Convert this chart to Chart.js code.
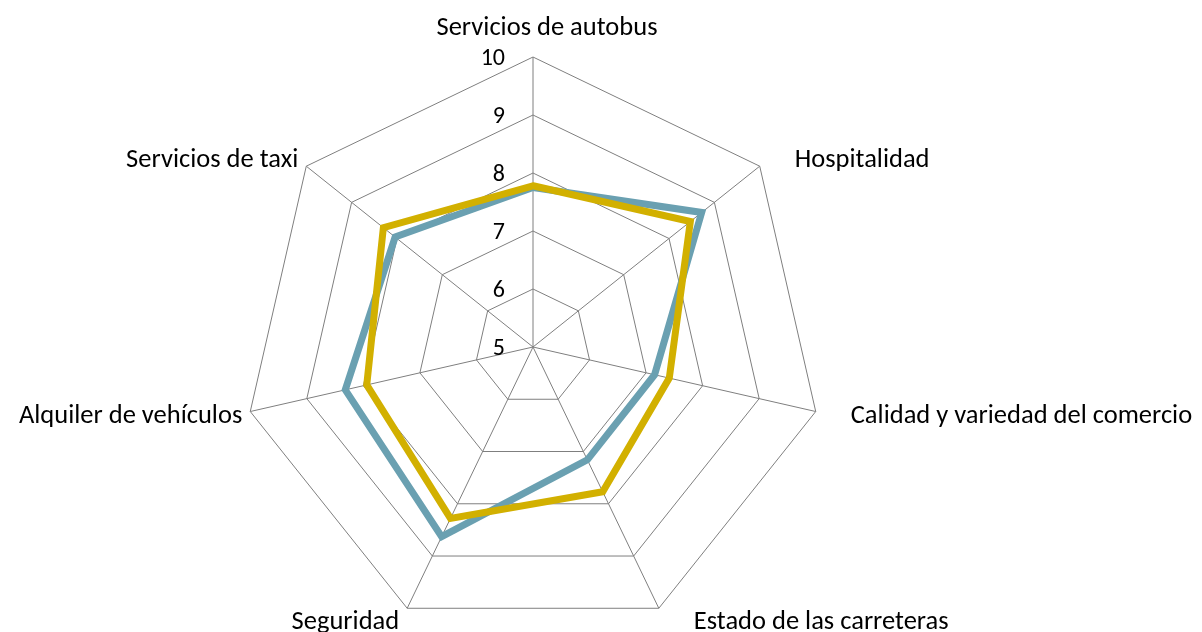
<!DOCTYPE html>
<html>
<head>
<meta charset="utf-8">
<script src="https://cdn.jsdelivr.net/npm/chart.js@4"></script>
<style>
  html, body { margin: 0; padding: 0; background: #fff; overflow: hidden; }
  canvas { display: block; }
</style>
</head>
<body>
<canvas id="radar" width="1202" height="642"></canvas>
<script>
// Categorias y valores
var categorias = [
  "Servicios de autobus",
  "Hospitalidad",
  "Calidad y variedad del comercio",
  "Estado de las carreteras",
  "Seguridad",
  "Alquiler de vehículos",
  "Servicios de taxi"
];
var serieAzul = [7.75, 8.72, 7.15, 7.16, 8.63, 8.32, 8.04];
var serieDorada = [7.78, 8.47, 7.41, 7.77, 8.28, 7.94, 8.30];
var valoresEje = [5, 6, 7, 8, 9, 10];

var fuenteCategorias = "26.5px Carlito, Calibri, 'Open Sans', sans-serif";
var fuenteEje = "24px Carlito, Calibri, 'Open Sans', sans-serif";

// Etiquetas de categorias y de la escala, dibujadas con la posicion del eje radial
var etiquetas = {
  id: "etiquetas",
  afterDraw: function (chart) {
    var r = chart.scales.r;
    var ctx = chart.ctx;
    ctx.save();
    ctx.fillStyle = "#000";
    ctx.font = fuenteCategorias;
    ctx.textBaseline = "middle";
    categorias.forEach(function (nombre, i) {
      var p = r.getPointPosition(i, r.drawingArea);
      var ux = (p.x - r.xCenter) / r.drawingArea;
      var uy = (p.y - r.yCenter) / r.drawingArea;
      var x = p.x + 14, y;
      if (Math.abs(ux) < 0.1) {
        ctx.textAlign = "center";
        y = p.y + uy * 29;
      } else {
        ctx.textAlign = ux > 0 ? "left" : "right";
        x += ux > 0 ? 21 : -22;
        y = p.y + uy * 13 + 2;
      }
      ctx.fillText(nombre, x, y);
    });
    ctx.font = fuenteEje;
    ctx.textAlign = "right";
    valoresEje.forEach(function (v) {
      var d = r.getDistanceFromCenterForValue(v);
      ctx.fillText(String(v), r.xCenter - 28, r.yCenter - d + 2);
    });
    ctx.restore();
  }
};

var ctx = document.getElementById("radar").getContext("2d");
new Chart(ctx, {
  type: "radar",
  data: {
    labels: categorias,
    datasets: [
      {
        label: "Serie 1",
        data: serieAzul,
        borderColor: "rgb(106, 160, 177)",
        borderWidth: 7,
        borderJoinStyle: "miter",
        fill: false,
        pointRadius: 0,
        order: 2
      },
      {
        label: "Serie 2",
        data: serieDorada,
        borderColor: "rgb(210, 176, 0)",
        borderWidth: 7,
        borderJoinStyle: "miter",
        fill: false,
        pointRadius: 0,
        order: 1
      }
    ]
  },
  options: {
    responsive: false,
    animation: false,
    layout: { padding: { left: 0, right: 136, top: 57, bottom: 5 } },
    plugins: { legend: { display: false }, tooltip: { enabled: false } },
    scales: {
      r: {
        min: valoresEje[0],
        max: valoresEje[valoresEje.length - 1],
        ticks: { display: false, stepSize: 1 },
        pointLabels: { display: false },
        grid: { color: "#7f7f7f", lineWidth: 1 },
        angleLines: { color: "#7f7f7f", lineWidth: 1 }
      }
    }
  },
  plugins: [etiquetas]
});
</script>
</body>
</html>
